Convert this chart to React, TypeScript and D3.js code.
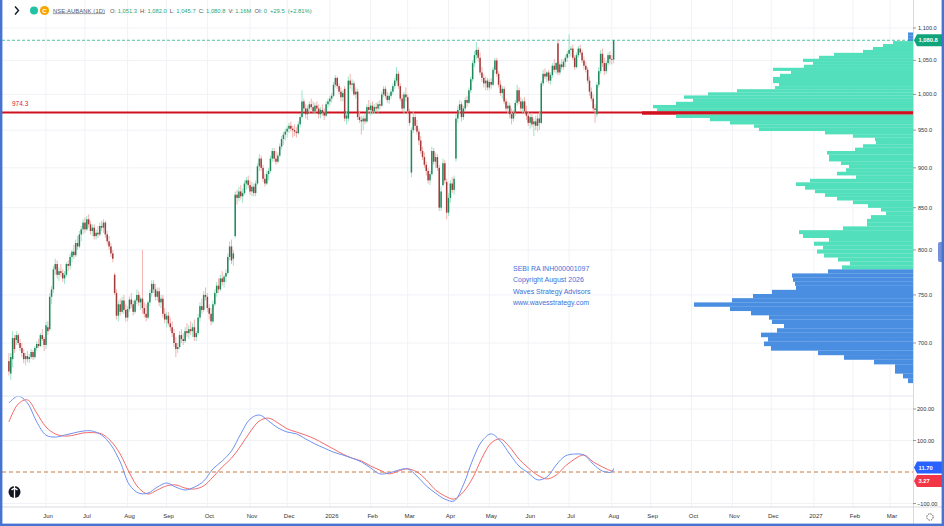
import React, { useEffect, useRef } from "react";
import * as d3 from "d3";

const W = 944;
const H = 526;

// daily candles [open, high, low, close], one array per month
const may25 = [
  [682, 690, 668, 672], [670, 690, 664, 686], [684, 712, 676, 705], [705, 708, 690, 694], [703, 712, 698, 708],
  [708, 710, 698, 700], [700, 704, 692, 695], [695, 700, 686, 690], [690, 694, 680, 684], [684, 690, 678, 687],
  [687, 692, 681, 684], [684, 689, 680, 686], [686, 694, 684, 691], [691, 693, 683, 686], [686, 697, 684, 695],
  [695, 702, 692, 699], [699, 704, 695, 697], [697, 710, 696, 708], [708, 714, 702, 704], [704, 706, 692, 698],
];
const jun25 = [
  [698, 722, 694, 718], [716, 722, 708, 712], [714, 752, 712, 748], [748, 760, 740, 756], [756, 782, 752, 778],
  [778, 790, 772, 784], [784, 788, 768, 772], [772, 780, 765, 776], [776, 784, 770, 774], [774, 778, 764, 768],
  [768, 776, 762, 772], [772, 786, 770, 784], [784, 788, 776, 782], [782, 796, 778, 792], [792, 800, 786, 798],
  [798, 806, 790, 794], [794, 812, 792, 808], [808, 816, 800, 804], [804, 822, 802, 818], [818, 828, 810, 824],
  [824, 836, 818, 832],
];
const jul25 = [
  [832, 838, 820, 824], [824, 840, 822, 836], [836, 842, 826, 830], [830, 834, 818, 822], [822, 830, 816, 826],
  [826, 830, 812, 816], [816, 824, 812, 820], [820, 828, 814, 818], [818, 832, 816, 828], [828, 834, 822, 826],
  [826, 836, 820, 832], [832, 834, 814, 818], [818, 822, 806, 810], [810, 816, 800, 804], [804, 808, 792, 796],
  [796, 800, 786, 790], [772, 774, 750, 752], [752, 756, 724, 728], [728, 744, 722, 740], [740, 746, 728, 732],
  [732, 748, 730, 744], [744, 750, 730, 734], [734, 740, 722, 726],
];
const aug25 = [
  [726, 738, 722, 735], [735, 748, 732, 745], [745, 752, 736, 740], [740, 744, 728, 732], [732, 746, 730, 744],
  [744, 756, 740, 750], [750, 754, 738, 742], [742, 748, 734, 746], [746, 800, 730, 736], [736, 742, 726, 730],
  [730, 740, 722, 726], [726, 744, 724, 742], [742, 756, 738, 752], [752, 766, 748, 762], [762, 766, 752, 756],
  [756, 762, 744, 748], [748, 758, 744, 754], [754, 758, 738, 742], [742, 750, 736, 746], [746, 750, 726, 730],
  [730, 736, 720, 724],
];
const sep25 = [
  [724, 732, 716, 728], [728, 732, 718, 720], [720, 726, 712, 716], [716, 722, 706, 710], [710, 714, 696, 700],
  [700, 706, 686, 694], [694, 700, 690, 696], [696, 712, 694, 708], [708, 714, 700, 704], [704, 710, 698, 702],
  [702, 716, 700, 712], [712, 720, 706, 710], [710, 718, 704, 714], [714, 722, 708, 712], [712, 720, 706, 716],
  [716, 724, 702, 706], [706, 712, 702, 710], [710, 730, 708, 726], [726, 742, 722, 738], [738, 746, 730, 734],
  [734, 754, 732, 750], [750, 758, 744, 748],
];
const oct25 = [
  [748, 752, 732, 736], [736, 740, 724, 730], [730, 736, 718, 722], [722, 744, 720, 740], [740, 756, 738, 752],
  [752, 764, 748, 760], [760, 768, 752, 756], [756, 772, 754, 768], [768, 776, 760, 764], [764, 772, 758, 770],
  [770, 778, 764, 774], [774, 796, 772, 792], [792, 810, 788, 804], [804, 812, 784, 788], [790, 800, 782, 796],
  [816, 870, 814, 866], [866, 872, 854, 862], [862, 876, 858, 870], [870, 878, 860, 864], [864, 874, 856, 868],
  [868, 884, 866, 880], [880, 888, 872, 884], [884, 890, 874, 878],
];
const nov25 = [
  [878, 884, 866, 870], [870, 882, 864, 876], [876, 880, 864, 868], [868, 884, 864, 880], [880, 906, 878, 902],
  [902, 918, 896, 912], [912, 916, 896, 900], [900, 904, 882, 886], [886, 892, 876, 880], [880, 896, 878, 892],
  [892, 900, 884, 896], [896, 916, 894, 912], [912, 926, 908, 922], [922, 926, 908, 912], [912, 922, 904, 908],
  [908, 920, 906, 916], [916, 932, 914, 928], [928, 942, 924, 938], [938, 948, 930, 944], [944, 952, 936, 948],
];
const dec25 = [
  [948, 956, 940, 952], [952, 960, 946, 956], [956, 962, 948, 952], [952, 956, 940, 950], [950, 958, 942, 948],
  [948, 954, 940, 946], [946, 962, 944, 958], [958, 972, 954, 968], [968, 1006, 966, 990], [990, 994, 976, 980],
  [980, 986, 966, 972], [972, 984, 964, 980], [980, 990, 974, 986], [986, 994, 978, 982], [982, 990, 974, 976],
  [976, 988, 972, 984], [984, 990, 976, 980], [980, 986, 966, 972], [972, 982, 966, 978], [978, 986, 970, 974],
  [974, 980, 964, 970], [970, 990, 968, 986], [986, 994, 980, 990],
];
const jan26 = [
  [990, 998, 984, 994], [994, 1002, 988, 998], [998, 1018, 996, 1014], [1014, 1028, 1010, 1024], [1024, 1026, 1008, 1012],
  [1012, 1016, 1000, 1004], [1004, 1010, 990, 996], [996, 1006, 990, 1002], [1008, 1012, 962, 966], [966, 976, 958, 970],
  [966, 1026, 962, 1020], [1020, 1030, 1008, 1014], [1014, 1022, 1004, 1016], [1016, 1020, 998, 1000], [1000, 1010, 994, 1004],
  [1004, 1008, 964, 968], [968, 976, 960, 964], [964, 970, 944, 962], [962, 970, 950, 966], [966, 972, 958, 962],
  [962, 986, 960, 982], [982, 992, 974, 978],
];
const feb26 = [
  [978, 988, 970, 984], [984, 990, 972, 976], [976, 986, 972, 982], [982, 988, 976, 980], [980, 990, 974, 986],
  [986, 992, 978, 984], [984, 1004, 982, 1000], [1000, 1012, 996, 1008], [1008, 1012, 994, 998], [998, 1004, 988, 992],
  [992, 1002, 986, 998], [998, 1008, 994, 1004], [1004, 1016, 1000, 1012], [1012, 1024, 1008, 1020], [1020, 1040, 1016, 1030],
  [1030, 1034, 1008, 1012], [1012, 1016, 990, 994], [994, 1000, 976, 980], [980, 1004, 972, 1000], [1000, 1010, 990, 996],
];
const mar26 = [
  [996, 1000, 972, 976], [976, 980, 956, 960], [894, 954, 888, 950], [950, 976, 946, 968], [968, 972, 950, 956],
  [956, 964, 944, 948], [948, 952, 930, 936], [936, 942, 918, 922], [922, 928, 910, 914], [914, 920, 900, 904],
  [904, 908, 890, 896], [896, 900, 880, 884], [884, 896, 878, 892], [892, 928, 890, 922], [922, 926, 904, 908],
  [908, 920, 900, 914], [914, 918, 896, 900], [900, 904, 846, 850], [850, 876, 846, 870], [878, 912, 876, 906],
  [906, 910, 880, 884], [882, 886, 836, 844],
];
const apr26 = [
  [844, 868, 840, 862], [862, 884, 856, 880], [880, 888, 868, 872], [872, 890, 866, 886], [912, 972, 908, 966],
  [966, 984, 960, 978], [978, 992, 972, 986], [986, 990, 962, 968], [968, 984, 964, 980], [980, 996, 976, 992],
  [992, 998, 982, 988], [988, 1010, 986, 1006], [1006, 1026, 1002, 1022], [1022, 1050, 1018, 1046], [1046, 1064, 1040, 1058],
  [1058, 1078, 1052, 1066], [1066, 1070, 1048, 1054], [1054, 1062, 1028, 1032], [1032, 1040, 1018, 1024], [1024, 1030, 1010, 1016],
  [1016, 1026, 1006, 1020], [1020, 1024, 1006, 1010],
];
const may26 = [
  [1010, 1022, 1006, 1018], [1018, 1024, 1008, 1014], [1014, 1040, 1012, 1036], [1036, 1054, 1030, 1050], [1050, 1054, 1026, 1030],
  [1030, 1034, 1010, 1014], [1014, 1020, 998, 1002], [1002, 1012, 994, 1008], [1008, 1012, 986, 990], [990, 994, 976, 980],
  [980, 990, 972, 984], [984, 988, 966, 972], [972, 980, 958, 966], [966, 978, 962, 974], [974, 992, 970, 988],
  [988, 1014, 984, 1006], [1006, 1010, 986, 990], [990, 996, 976, 980], [980, 994, 974, 990], [990, 996, 972, 976],
  [976, 984, 964, 970],
];
const jun26 = [
  [970, 976, 956, 960], [960, 972, 952, 968], [968, 974, 954, 958], [958, 966, 942, 962], [962, 970, 950, 956],
  [956, 972, 948, 966], [966, 976, 950, 960], [960, 1020, 958, 1016], [1016, 1036, 1012, 1030], [1030, 1038, 1022, 1026],
  [1026, 1034, 1018, 1032], [1032, 1036, 1016, 1020], [1020, 1032, 1014, 1028], [1028, 1046, 1024, 1042], [1042, 1052, 1032, 1036],
  [1036, 1048, 1030, 1046], [1076, 1082, 1028, 1032], [1032, 1048, 1028, 1044], [1044, 1052, 1036, 1040], [1040, 1052, 1036, 1048],
  [1048, 1058, 1040, 1054], [1054, 1064, 1048, 1060],
];
const jul26 = [
  [1060, 1090, 1054, 1066], [1066, 1072, 1056, 1068], [1068, 1074, 1050, 1054], [1054, 1058, 1036, 1040], [1040, 1062, 1038, 1058],
  [1058, 1072, 1054, 1068], [1068, 1074, 1058, 1062], [1062, 1066, 1046, 1050], [1050, 1056, 1036, 1042], [1042, 1048, 1032, 1036],
  [1036, 1040, 1016, 1020], [1020, 1026, 998, 1004], [1004, 1010, 990, 994], [994, 1000, 976, 980], [980, 986, 960, 978],
  [972, 1018, 968, 1014], [1014, 1040, 1010, 1034], [1034, 1066, 1030, 1060], [1060, 1068, 1040, 1046], [1046, 1054, 1028, 1034],
  [1034, 1050, 1030, 1046], [1046, 1062, 1042, 1058], [1058, 1064, 1044, 1052],
];
const aug26 = [
  [1052, 1058, 1044, 1051.3], [1051.3, 1082.0, 1045.7, 1080.8],
];

const candles = [
  ...may25, ...jun25, ...jul25, ...aug25, ...sep25, ...oct25, ...nov25, ...dec25,
  ...jan26, ...feb26, ...mar26, ...apr26, ...may26, ...jun26, ...jul26, ...aug26,
];
const firstDay = new Date(2025, 4, 5);

// oscillator, one value every 5 bars (last one on the last bar)
const oscEvery = 5;
const oscBlue = [
  219, 241, 219, 159, 117, 111, 117, 124, 130, 130, 117, 86, 32, -41, -67, -67, -48, -35, -48, -57,
  -48, -29, 10, 35, 67, 121, 168, 181, 162, 140, 127, 121, 105, 89, 76, 63, 54, 44, 32, 13,
  -6, -3, 6, 10, -13, -44, -67, -86, -92, -41, 38, 98, 121, 98, 57, 19, -3, -25, -16, 22,
  51, 57, 54, 25, 3, 0, 11.7,
];
const oscRed = [
  159, 216, 229, 187, 143, 121, 114, 117, 124, 125, 121, 98, 57, -3, -51, -70, -57, -44, -41, -51,
  -54, -44, -16, 16, 44, 83, 127, 162, 171, 156, 137, 127, 117, 105, 89, 73, 57, 44, 35, 19,
  6, -6, 3, 10, 0, -25, -57, -76, -86, -63, -19, 44, 92, 105, 79, 41, 13, -10, -22, -10,
  19, 41, 54, 32, 16, 3, 3.27,
];

// volume profile rows from the top price down
const vpTop = 1093;
const vpStep = 4.5;
const vpBlueAbove = 1079.5;
const vpBlueBelow = 778;
const vpVolumes = [
  5, 5, 5, 20, 30, 40, 50, 79, 94, 110,
  100, 109, 140, 122, 133, 140, 140, 134, 138, 176,
  205, 229, 220, 237, 260, 256, 271, 237, 203, 183,
  159, 154, 88, 60, 38, 37, 50, 58, 86, 84,
  84, 72, 64, 67, 76, 57, 103, 117, 108, 98,
  88, 76, 60, 45, 32, 27, 42, 46, 46, 70,
  114, 110, 84, 99, 90, 96, 89, 75, 63, 71,
  85, 121, 120, 118, 117, 141, 160, 181, 219, 183,
  162, 144, 141, 129, 136, 152, 145, 149, 142, 95,
  69, 39, 18, 18, 10, 5,
];

const priceTicks = [1100, 1050, 1000, 950, 900, 850, 800, 750, 700];
const oscTicks = [200, 100, -100];
const levelPrice = 974.3;
const header = [
  ["O:", "1,051.3"], ["H:", "1,082.0"], ["L:", "1,045.7"], ["C:", "1,080.8"], ["V:", "1.16M"], ["OI:", "0"],
];
const change = "+29.5  (+2.81%)";
const watermark = ["SEBI RA INH000001097", "Copyright August 2026", "Waves Strategy Advisors", "www.wavesstrategy.com"];

const FONT = "'Liberation Sans', Arial, sans-serif";

export default function App() {
  const ref = useRef<SVGSVGElement>(null);

  useEffect(() => {
    const svg = d3.select(ref.current);
    svg.selectAll("*").remove();

    const plotR = 913;
    const paneSep = 396;
    const axisTop = 507;

    const x = d3.scaleLinear().domain([0, 475]).range([8.9, 890]);
    const y = d3.scaleLog().domain([700, 1100]).range([343, 28]);
    const yo = d3.scaleLinear().domain([-100, 200]).range([503.5, 409]);

    // weekday calendar for the time axis
    const days: Date[] = [];
    for (let d = new Date(firstDay); days.length < 500; d.setDate(d.getDate() + 1)) {
      const wd = d.getDay();
      if (wd !== 0 && wd !== 6) days.push(new Date(d));
    }
    const monthTicks = days
      .map((d, i) => ({ d, i }))
      .filter(({ d, i }) => i > 0 && d.getMonth() !== days[i - 1].getMonth() && x(i) < plotR - 10);

    svg.append("rect").attr("width", W).attr("height", H).attr("fill", "#fff");

    const defs = svg.append("defs");
    defs.append("clipPath").attr("id", "pricePane")
      .append("rect").attr("x", 2).attr("y", 0).attr("width", plotR - 2).attr("height", paneSep);
    defs.append("clipPath").attr("id", "oscPane")
      .append("rect").attr("x", 2).attr("y", paneSep).attr("width", plotR - 2).attr("height", axisTop - paneSep);

    // grid
    const grid = svg.append("g").attr("stroke", "#f0f2f6").attr("stroke-width", 1);
    monthTicks.forEach(({ i }) => {
      grid.append("line").attr("x1", x(i)).attr("x2", x(i)).attr("y1", 0).attr("y2", axisTop);
    });
    priceTicks.forEach((p) => {
      grid.append("line").attr("x1", 2).attr("x2", plotR).attr("y1", y(p)).attr("y2", y(p));
    });
    oscTicks.forEach((v) => {
      grid.append("line").attr("x1", 2).attr("x2", plotR).attr("y1", yo(v)).attr("y2", yo(v));
    });

    const price = svg.append("g").attr("clip-path", "url(#pricePane)");

    // volume profile
    const vMax = d3.max(vpVolumes) as number;
    const vx = d3.scaleLinear().domain([0, vMax]).range([0, 271]);
    const poc = vpVolumes.indexOf(vMax);
    vpVolumes.forEach((v, k) => {
      const top = vpTop - vpStep * k;
      const bot = top - vpStep;
      const y1 = y(top);
      const y2 = y(bot);
      let fill = "#52dfbb";
      if (bot >= vpBlueAbove || top <= vpBlueBelow) fill = "#4a8ee2";
      if (k === poc) fill = "#d4101f";
      price.append("rect")
        .attr("x", plotR - vx(v)).attr("width", vx(v))
        .attr("y", y1).attr("height", y2 - y1 + 0.15)
        .attr("fill", fill);
    });

    // last price line
    const last = candles[candles.length - 1];
    price.append("line")
      .attr("x1", 2).attr("x2", plotR).attr("y1", y(last[3])).attr("y2", y(last[3]))
      .attr("stroke", "#26b58c").attr("stroke-width", 0.8).attr("stroke-dasharray", "3,2");

    // horizontal level
    price.append("line")
      .attr("x1", 2).attr("x2", plotR).attr("y1", y(levelPrice)).attr("y2", y(levelPrice))
      .attr("stroke", "#d0101e").attr("stroke-width", 2);
    svg.append("text").attr("x", 12).attr("y", y(levelPrice) - 6.5)
      .attr("font-family", FONT).attr("font-size", 6.5).attr("fill", "#dc2430")
      .text(levelPrice.toFixed(1));

    // candles
    const cg = price.append("g");
    candles.forEach(([o, h, l, c], i) => {
      const up = c >= o;
      const cx = x(i);
      cg.append("line")
        .attr("x1", cx).attr("x2", cx).attr("y1", y(h)).attr("y2", y(l))
        .attr("stroke", up ? "#8fe3c3" : "#f4a9a9").attr("stroke-width", 0.9);
      const yt = Math.min(y(o), y(c));
      cg.append("rect")
        .attr("x", cx - 0.75).attr("width", 1.5)
        .attr("y", yt).attr("height", Math.max(0.8, Math.abs(y(o) - y(c))))
        .attr("fill", up ? "#21875a" : "#a03b3b");
    });

    // oscillator
    const osc = svg.append("g").attr("clip-path", "url(#oscPane)");
    osc.append("line")
      .attr("x1", 2).attr("x2", plotR).attr("y1", yo(0)).attr("y2", yo(0))
      .attr("stroke", "#c97a3c").attr("stroke-width", 1).attr("stroke-dasharray", "4,3");
    const oscX = (k: number) => x(Math.min(k * oscEvery, candles.length - 1));
    const line = d3.line<number>().x((_, k) => oscX(k)).y((v) => yo(v)).curve(d3.curveCatmullRom);
    osc.append("path").attr("d", line(oscRed)).attr("fill", "none").attr("stroke", "#f46a6a").attr("stroke-width", 1);
    osc.append("path").attr("d", line(oscBlue)).attr("fill", "none").attr("stroke", "#6e92f2").attr("stroke-width", 1);

    // pane borders
    svg.append("line").attr("x1", 2).attr("x2", plotR).attr("y1", paneSep).attr("y2", paneSep)
      .attr("stroke", "#e6e8ee");
    svg.append("line").attr("x1", 2).attr("x2", W).attr("y1", axisTop).attr("y2", axisTop)
      .attr("stroke", "#d6d9e0");
    svg.append("line").attr("x1", plotR + 0.5).attr("x2", plotR + 0.5).attr("y1", 0).attr("y2", H)
      .attr("stroke", "#d6d9e0");

    // price axis
    const axisText = (g: any) => g.attr("font-family", FONT).attr("font-size", 5.6).attr("fill", "#333");
    const pa = svg.append("g").call(axisText);
    priceTicks.forEach((p) => {
      pa.append("line").attr("x1", plotR).attr("x2", plotR + 3).attr("y1", y(p)).attr("y2", y(p)).attr("stroke", "#999");
      pa.append("text").attr("x", plotR + 5).attr("y", y(p) + 2).text(d3.format(",.1f")(p));
    });
    oscTicks.forEach((v) => {
      pa.append("line").attr("x1", plotR).attr("x2", plotR + 3).attr("y1", yo(v)).attr("y2", yo(v)).attr("stroke", "#999");
      pa.append("text").attr("x", plotR + 4).attr("y", yo(v) + 2).text(d3.format(".2f")(v));
    });

    // value labels on the axis
    const tag = (yc: number, fill: string, label: string) => {
      svg.append("path")
        .attr("d", `M${plotR + 1},${yc} L${plotR + 4},${yc - 6} L${W - 2},${yc - 6} L${W - 2},${yc + 6} L${plotR + 4},${yc + 6} Z`)
        .attr("fill", fill);
      svg.append("text").attr("x", plotR + 5.5).attr("y", yc + 2.2)
        .attr("font-family", FONT).attr("font-size", 5.8).attr("font-weight", "bold").attr("fill", "#fff").text(label);
    };
    tag(y(last[3]), "#0fa47a", d3.format(",.1f")(last[3]));
    tag(467.5, "#2962ff", oscBlue[oscBlue.length - 1].toFixed(2));
    tag(481, "#f23645", oscRed[oscRed.length - 1].toFixed(2));

    // time axis
    const ta = svg.append("g").call(axisText).attr("font-size", 6).attr("text-anchor", "middle");
    monthTicks.forEach(({ d, i }) => {
      ta.append("text").attr("x", x(i) + 2).attr("y", 518)
        .text(d.getMonth() === 0 ? d3.timeFormat("%Y")(d) : d3.timeFormat("%b")(d));
    });

    // legend line
    svg.append("path").attr("d", "M15,6.5 L18.5,10.5 L15,14.5").attr("fill", "none")
      .attr("stroke", "#131722").attr("stroke-width", 1.4);
    svg.append("circle").attr("cx", 34).attr("cy", 10.5).attr("r", 4).attr("fill", "#22c2a5");
    svg.append("circle").attr("cx", 44.5).attr("cy", 10.5).attr("r", 4.6).attr("fill", "#f7a600");
    svg.append("text").attr("x", 44.5).attr("y", 12.8).attr("text-anchor", "middle")
      .attr("font-family", FONT).attr("font-size", 6).attr("font-weight", "bold").attr("fill", "#fff").text("C");
    const lg = svg.append("g").attr("font-family", FONT).attr("font-size", 5.8);
    lg.append("text").attr("x", 53).attr("y", 12.5).attr("fill", "#555")
      .attr("text-decoration", "underline").attr("textLength", 52).text("NSE:AUBANK (1D)");
    let hx = 110;
    header.forEach(([k, v]) => {
      const t = lg.append("text").attr("x", hx).attr("y", 12.5);
      t.append("tspan").attr("fill", "#555").text(k + " ");
      t.append("tspan").attr("fill", "#1ea67a").text(v);
      hx += (t.node() as SVGTextElement).getComputedTextLength() + 3;
    });
    lg.append("text").attr("x", hx).attr("y", 12.5).attr("fill", "#1ea67a")
      .attr("xml:space", "preserve").style("white-space", "pre").text(change);

    // watermark
    const wm = svg.append("g").attr("font-family", FONT).attr("font-size", 7).attr("fill", "#3f6fd6");
    watermark.forEach((s, i) => {
      wm.append("text").attr("x", 513).attr("y", 271 + i * 11.3).text(s);
    });

    // logo, handle, gear
    svg.append("circle").attr("cx", 14.5).attr("cy", 492).attr("r", 6).attr("fill", "#131722");
    svg.append("path").attr("d", "M14.5,486 L14.5,498 M11.5,490 Q14.5,487 17.5,490").attr("stroke", "#fff")
      .attr("stroke-width", 1.3).attr("fill", "none");
    svg.append("rect").attr("x", 938).attr("y", 242).attr("width", 6).attr("height", 20).attr("rx", 2)
      .attr("fill", "#7390d8");
    svg.append("circle").attr("cx", 930).attr("cy", 517).attr("r", 3.2).attr("fill", "none")
      .attr("stroke", "#555").attr("stroke-width", 1).attr("stroke-dasharray", "1.5,1");

    // frame
    svg.append("rect").attr("x", 1.2).attr("y", -4).attr("width", W - 2.4).attr("height", H + 2.8)
      .attr("fill", "none").attr("stroke", "#4573cf").attr("stroke-width", 2.4);
  }, []);

  return (
    <div style={{ width: W, height: H }}>
      <style>{"body{margin:0}"}</style>
      <svg ref={ref} width={W} height={H} style={{ display: "block" }} />
    </div>
  );
}
